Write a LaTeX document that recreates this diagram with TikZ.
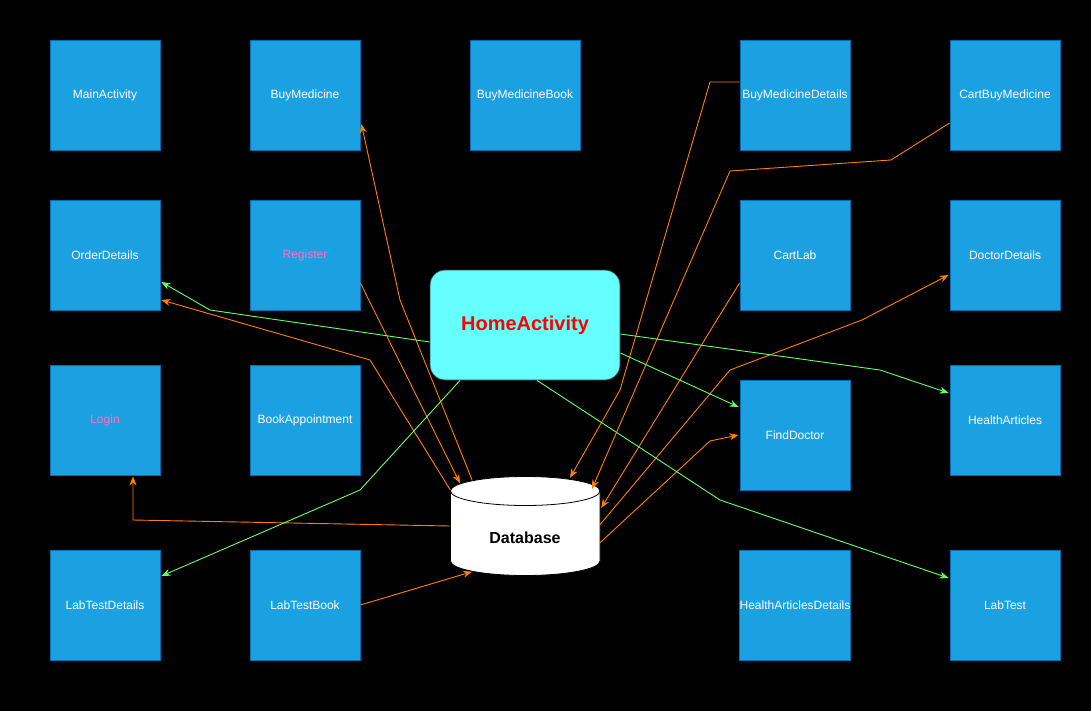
\documentclass[tikz,border=0pt]{standalone}
\usepackage{fontspec}
\setmainfont{Liberation Sans}
\usetikzlibrary{arrows.meta,calc}
\definecolor{boxblue}{HTML}{1BA1E2}
\definecolor{boxline}{HTML}{006EAF}
\definecolor{homefill}{HTML}{66FFFF}
\definecolor{homeline}{HTML}{36393D}
\definecolor{orangeline}{HTML}{FF8000}
\definecolor{greenline}{HTML}{66FF66}
\definecolor{pinktext}{HTML}{FF6EC7}
\tikzset{
  actbox/.style={rectangle, fill=boxblue, draw=boxline, line width=0.8pt,
    minimum width=110pt, minimum height=110pt, inner sep=0pt, text=white,
    font=\fontsize{12}{14}\selectfont},
  homebox/.style={rectangle, rounded corners=15pt, fill=homefill, draw=homeline, line width=0.8pt,
    minimum width=190pt, minimum height=110pt, text=red, font=\bfseries\fontsize{20}{24}\selectfont},
  orangearrow/.style={draw=orangeline, line width=0.9pt, -{Stealth[length=9pt,width=7pt]}},
  greenarrow/.style={draw=greenline, line width=0.9pt, -{Stealth[length=9pt,width=7pt]}},
}
\begin{document}
\begin{tikzpicture}[x=1pt,y=-1pt]
\fill[black] (0,0) rectangle (1091,711);
\useasboundingbox (0,0) rectangle (1091,711);
% boxes
\node[actbox] (main) at (105,95) {MainActivity};
\node[actbox] (bm) at (305,95) {BuyMedicine};
\node[actbox] (bmb) at (525,95) {BuyMedicineBook};
\node[actbox] (bmd) at (795,95) {BuyMedicineDetails};
\node[actbox] (cbm) at (1005,95) {CartBuyMedicine};
\node[actbox] (od) at (105,255) {OrderDetails};
\node[actbox, text=pinktext] (reg) at (305,255) {Register};
\node[actbox] (cl) at (795,255) {CartLab};
\node[actbox] (dd) at (1005,255) {DoctorDetails};
\node[actbox, text=pinktext] (login) at (105,420) {Login};
\node[actbox] (ba) at (305,420) {BookAppointment};
\node[actbox] (fd) at (795,435) {FindDoctor};
\node[actbox] (ha) at (1005,420) {HealthArticles};
\node[actbox] (ltd) at (105,605) {LabTestDetails};
\node[actbox] (ltb) at (305,605) {LabTestBook};
\node[actbox] (had) at (795,605) {HealthArticlesDetails};
\node[actbox] (lt) at (1005,605) {LabTest};
% database cylinder
\node[rectangle, minimum width=149pt, minimum height=99pt, inner sep=0pt] (db) at (525,526) {};
\filldraw[fill=white, draw=black, line width=0.8pt]
  (450.5,491) arc[start angle=180, end angle=0, x radius=74.75pt, y radius=14.5pt]
  -- (600,561) arc[start angle=0, end angle=-180, x radius=74.75pt, y radius=14.5pt] -- cycle;
\draw[black, line width=0.8pt] (450.5,491) arc[start angle=180, end angle=360, x radius=74.75pt, y radius=14.5pt];
\node[font=\bfseries\fontsize{16}{19}\selectfont, text=black] (dblabel) at (525,538) {Database};
% home
\node[homebox] (home) at (525,325) {HomeActivity};
% orange connectors
\draw[orangearrow] ($(db.north)+(-53,3.5)$) -- (400,300) -- ($(bm.east)+(1,29)$);
\draw[orangearrow] ($(reg.east)+(0,28)$) -- ($(db.north)+(-65,7)$);
\draw[orangearrow] ($(db.west)+(0,-36)$) -- (370,360) -- ($(od.east)+(1,45)$);
\draw[orangearrow] (db.west) -- (133,520) -- ($(login.south)+(28,1)$);
\draw[orangearrow] (ltb.east) -- ($(db.south)+(-53,-4)$);
\draw[orangearrow] ($(bmd.west)+(0,-13)$) -- (710,82) -- (620,390) -- ($(db.north)+(45,1.5)$);
\draw[orangearrow] ($(cbm.west)+(0,28)$) -- (891,160) -- (730,171) -- ($(db.north)+(67,12.5)$);
\draw[orangearrow] ($(cl.west)+(0,28)$) -- ($(db.east)+(1.5,-18)$);
\draw[orangearrow] ($(db.east)+(0,-1)$) -- (730,370) -- (862,320) -- ($(dd.west)+(-1,20)$);
\draw[orangearrow] ($(db.east)+(0,17)$) -- (710,441) -- ($(fd.west)+(-1,0)$);
% green connectors
\draw[greenarrow] ($(home.west)+(0,17)$) -- (210,310) -- ($(od.east)+(1,27)$);
\draw[greenarrow] ($(home.south)+(-65,0)$) -- (360,490) -- ($(ltd.east)+(1,-29)$);
\draw[greenarrow] ($(home.east)+(0,9)$) -- (880,370) -- ($(ha.west)+(-1,-27)$);
\draw[greenarrow] ($(home.east)+(0,28)$) -- ($(fd.west)+(-1,-28)$);
\draw[greenarrow] ($(home.south)+(12,0)$) -- (720,500) -- ($(lt.west)+(-1,-27)$);
\end{tikzpicture}
\end{document}
